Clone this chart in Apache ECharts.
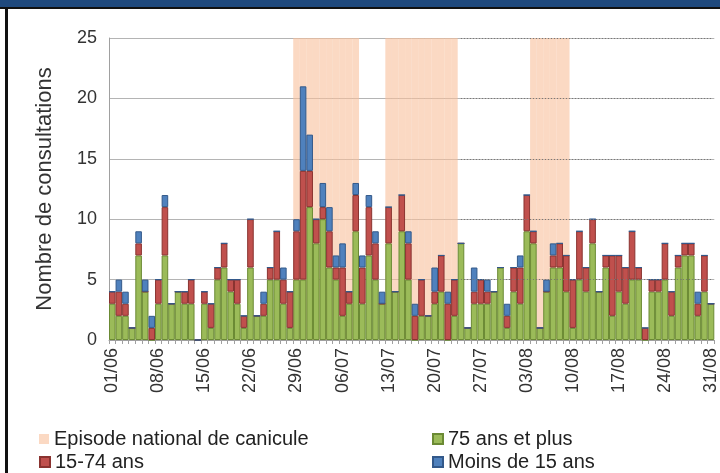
<!DOCTYPE html>
<html>
<head>
<meta charset="utf-8">
<script src="https://cdn.jsdelivr.net/npm/echarts@6/dist/echarts.min.js"></script>
<style>
html,body{margin:0;padding:0;background:#fff;}
#chart{width:720px;height:473px;}
</style>
</head>
<body>
<div id="chart"></div>
<script>
// jours du 01/06 au 31/08
var months = [['06', 30], ['07', 31], ['08', 31]];
var jours = [];
months.forEach(function (m) {
    for (var d = 1; d <= m[1]; d++) {
        jours.push((d < 10 ? '0' + d : '' + d) + '/' + m[0]);
    }
});

// episodes nationaux de canicule (debut, fin)
var episodes = [['29/06', '08/07'], ['13/07', '23/07'], ['04/08', '09/08']];

var plus75 = [3,2,2,1,7,4,0,3,7,3,4,3,3,0,3,1,5,6,4,3,1,6,2,2,5,5,3,1,
    5,5,11,8,10,6,5,2,3,9,3,7,5,3,8,4,
    9,5,0,2,2,3,4,0,2,8,1,3,3,3,4,6,
    1,4,3,9,8,1,4,6,6,4,1,5,4,8,4,6,2,4,3,5,5,0,4,4,5,2,6,7,7,2,4,3];
var ans15_74 = [1,2,1,0,1,0,1,2,4,0,0,1,2,0,1,2,1,2,1,2,1,4,0,1,1,4,2,3,
    4,9,3,2,1,3,1,4,1,3,3,4,3,0,3,0,
    3,3,2,3,0,1,3,3,3,0,0,1,2,1,0,0,
    1,2,3,3,1,0,0,1,2,3,4,4,2,2,0,1,5,3,3,4,1,1,1,1,3,2,1,1,1,1,3,0];
var moins15 = [0,1,1,0,1,1,1,0,1,0,0,0,0,0,0,0,0,0,0,0,0,0,0,1,0,0,1,0,
    1,7,3,0,2,2,1,2,0,1,1,1,1,1,0,0,
    0,1,1,0,0,2,0,1,0,0,0,2,0,1,0,0,
    1,0,1,0,0,0,1,1,0,0,0,0,0,0,0,0,0,0,0,0,0,0,0,0,0,0,0,0,0,1,0,0];

var yMax = 25;
var yTicks = [5, 10, 15, 20, 25];

// bande de fond pour les jours de canicule
var canicule = jours.map(function () { return null; });
episodes.forEach(function (e) {
    var a = jours.indexOf(e[0]), b = jours.indexOf(e[1]);
    for (var i = a; i <= b; i++) canicule[i] = yMax;
});

// quadrillage pointillé sur la fin de la période (comme l'original)
var pointilles = yTicks.map(function (v) {
    return [{ coord: ['24/07', v] }, { coord: ['31/08', v] }];
});

var chart = echarts.init(document.getElementById('chart'));
var font = 'Liberation Sans, Arial, sans-serif';
var legendText = { fontSize: 20, color: '#222', fontFamily: font };

var option = {
    animation: false,
    backgroundColor: '#fff',
    textStyle: { fontFamily: font },
    graphic: [
        { type: 'rect', shape: { x: 0, y: 0, width: 720, height: 7 }, style: { fill: '#1f497d' } },
        { type: 'rect', shape: { x: 0, y: 7, width: 720, height: 2 }, style: { fill: '#111' } },
        { type: 'rect', shape: { x: 5, y: 7, width: 3, height: 466 }, style: { fill: '#111' } }
    ],
    legend: [
        { left: 34, top: 424, itemWidth: 10, itemHeight: 10, icon: 'rect', textStyle: legendText,
          data: ['Episode national de canicule'] },
        { left: 427, top: 424, itemWidth: 10, itemHeight: 10, icon: 'rect', textStyle: legendText,
          data: ['75 ans et plus'] },
        { left: 34, top: 447, itemWidth: 10, itemHeight: 10, icon: 'rect', textStyle: legendText,
          data: ['15-74 ans'] },
        { left: 427, top: 447, itemWidth: 10, itemHeight: 10, icon: 'rect', textStyle: legendText,
          data: ['Moins de 15 ans'] }
    ],
    grid: { left: 109, right: 4, top: 38, bottom: 133 },
    xAxis: [
        {
            type: 'category',
            data: jours,
            axisLine: { lineStyle: { color: '#a0a0a0' } },
            axisTick: { show: true, interval: 0, length: 4, lineStyle: { color: '#a0a0a0' } },
            axisLabel: { interval: 6, rotate: 90, fontSize: 18, color: '#333', margin: 8, fontFamily: font }
        },
        {
            type: 'category',
            data: jours,
            show: false
        }
    ],
    yAxis: {
        type: 'value',
        min: 0,
        max: yMax,
        interval: 5,
        name: 'Nombre de consultations',
        nameLocation: 'middle',
        nameGap: 53,
        nameTextStyle: { fontSize: 22, color: '#333', fontFamily: font },
        axisLine: { show: true, lineStyle: { color: '#a0a0a0' } },
        axisTick: { show: false },
        axisLabel: { fontSize: 18, color: '#333', margin: 12, fontFamily: font },
        splitLine: { lineStyle: { color: '#b4b4b4' } }
    },
    series: [
        {
            name: 'Episode national de canicule',
            type: 'bar',
            xAxisIndex: 1,
            data: canicule,
            barCategoryGap: '0%',
            z: 1,
            itemStyle: { color: 'rgba(249,191,155,0.6)' },
            silent: true,
            markLine: {
                silent: true,
                symbol: 'none',
                label: { show: false },
                lineStyle: { color: '#777', type: [1, 2], width: 1 },
                data: pointilles
            }
        },
        {
            name: '75 ans et plus',
            type: 'bar',
            stack: 'total',
            data: plus75,
            barCategoryGap: '0%',
            z: 3,
            itemStyle: { color: '#9bbb59', borderColor: '#6b8a34', borderWidth: 1 }
        },
        {
            name: '15-74 ans',
            type: 'bar',
            stack: 'total',
            data: ans15_74,
            barCategoryGap: '0%',
            z: 3,
            itemStyle: { color: '#c0504d', borderColor: '#8a3330', borderWidth: 1 }
        },
        {
            name: 'Moins de 15 ans',
            type: 'bar',
            stack: 'total',
            data: moins15,
            barCategoryGap: '0%',
            z: 3,
            itemStyle: { color: '#4f81bd', borderColor: '#33598a', borderWidth: 1 }
        }
    ]
};
chart.setOption(option);
</script>
</body>
</html>
